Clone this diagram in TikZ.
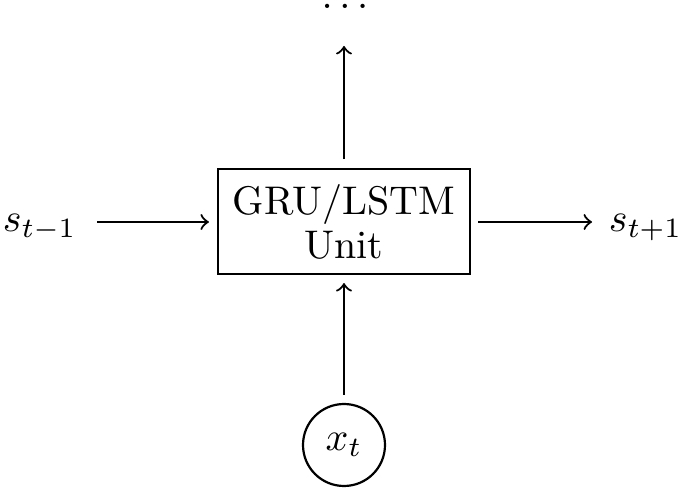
\documentclass[tikz,border=0pt]{standalone}
\begin{document}
\begin{tikzpicture}[x=0.25pt,y=-0.25pt,
  conn/.style={->,line width=0.55pt},
  unitbox/.style={draw,line width=0.55pt,align=center,minimum width=63pt,minimum height=26.25pt},
  inp/.style={draw,circle,line width=0.55pt,minimum size=20.5pt,inner sep=0pt},
  lbl/.style={inner sep=0pt}]
\useasboundingbox (0,0) rectangle (685,490);
\node[unitbox] (box) at (344,221.5) {GRU/LSTM\\[-1pt]Unit};
\node[inp] (x) at (344,445) {$x_t$};
\node[lbl,anchor=base] (dots) at (345,9) {$\ldots$};
\node[lbl,anchor=base west] (sl) at (2,232) {$s_{t-1}$};
\node[lbl,anchor=base east] (sr) at (683,232) {$s_{t+1}$};
\coordinate (lstart) at (97,222);
\coordinate (rend) at (592,222);
\coordinate (tend) at (344,46);
\draw[conn,shorten >=2pt] (lstart) -- (box.west|-lstart);
\draw[conn,shorten <=1.8pt] (box.east|-rend) -- (rend);
\draw[conn,shorten <=2.2pt] (box.north) -- (tend);
\draw[conn,shorten <=2pt,shorten >=2pt] (x.north) -- (box.south);
\end{tikzpicture}
\end{document}
